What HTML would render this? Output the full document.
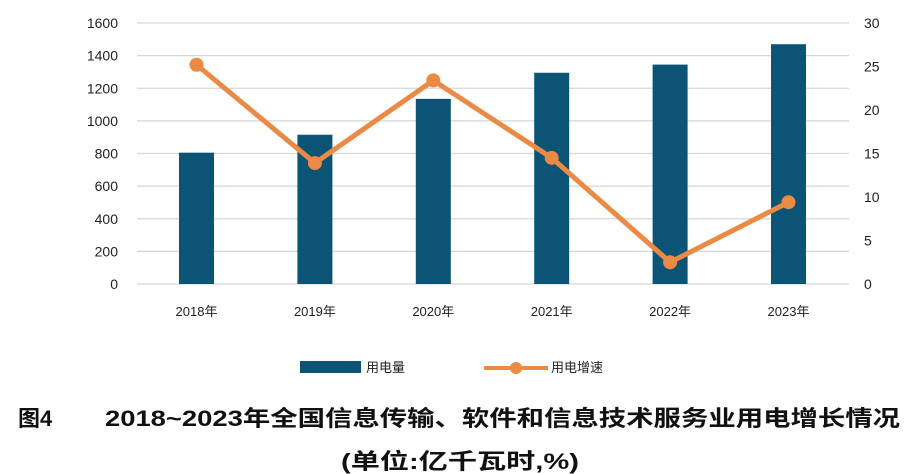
<!DOCTYPE html>
<html><head><meta charset="utf-8"><style>
body{margin:0;background:#fff;}
svg{display:block;font-family:"Liberation Sans","Noto Sans CJK SC",sans-serif;}
</style></head><body>
<svg id="chart" width="920" height="474" viewBox="0 0 920 474" xmlns="http://www.w3.org/2000/svg">
<g id="grid"></g>
<g id="bars"></g>
<g id="line"></g>
<g id="laxis" font-size="14" fill="#222" text-anchor="end"></g>
<g id="raxis" font-size="14" fill="#222"></g>
<g id="xaxis" font-size="13" fill="#222" text-anchor="middle"></g>
<g>
  <rect x="300" y="361" width="61" height="12" fill="#0b5475"/>
  <text x="366" y="372" font-size="13" fill="#222">用电量</text>
  <line x1="484" y1="368" x2="548" y2="368" stroke="#ea8a45" stroke-width="4"/>
  <circle cx="516" cy="368" r="6" fill="#ea8a45"/>
  <text x="551" y="372" font-size="13" fill="#222">用电增速</text>
</g>
<text x="18" y="426" font-size="22" font-weight="bold" fill="#111">图4</text>
<text x="105" y="426" font-size="22" font-weight="bold" fill="#111" textLength="795" lengthAdjust="spacingAndGlyphs">2018~2023年全国信息传输、软件和信息技术服务业用电增长情况</text>
<text x="341" y="469" font-size="22" font-weight="bold" fill="#111" textLength="238" lengthAdjust="spacingAndGlyphs">(单位:亿千瓦时,%)</text>
</svg>
<script>
const categories = ["2018年","2019年","2020年","2021年","2022年","2023年"];
const usage = [805, 915, 1135, 1295, 1345, 1470];
const growth = [25.2, 13.9, 23.4, 14.5, 2.5, 9.4];
const leftTicks = [0,200,400,600,800,1000,1200,1400,1600];
const rightTicks = [0,5,10,15,20,25,30];
const NS="http://www.w3.org/2000/svg";
const yTop=23,yBot=284,xLeft=137,xRight=849,c0=196.5,step=118.4,bw=35;
const yL=v=>yBot-(v/1600)*(yBot-yTop);
const yR=v=>yBot-(v/30)*(yBot-yTop);
const xC=i=>c0+i*step;
function mk(tag,attrs,parent){const e=document.createElementNS(NS,tag);for(const k in attrs)e.setAttribute(k,attrs[k]);parent.appendChild(e);return e;}
const grid=document.getElementById('grid'),bars=document.getElementById('bars'),line=document.getElementById('line');
const la=document.getElementById('laxis'),ra=document.getElementById('raxis'),xa=document.getElementById('xaxis');
leftTicks.forEach(t=>{
  const g=mk('line',{x1:xLeft,x2:xRight,y1:yL(t),y2:yL(t),stroke:'#d6d6d6','stroke-width':1.2},grid);
  
  
  const l=mk('text',{x:118,y:yL(t)+5},la);l.textContent=t;
  
  
});
rightTicks.forEach(t=>{
  const l=mk('text',{x:864,y:yR(t)+5},ra);l.textContent=t;
  
  
});
categories.forEach((c,i)=>{
  const r=mk('rect',{x:xC(i)-bw/2,y:yL(usage[i]),width:bw,height:yBot-yL(usage[i]),fill:'#0b5475'},bars);
  
  
  const l=mk('text',{x:xC(i),y:316},xa);l.textContent=c;
  
  
});
const pts=growth.map((v,i)=>xC(i)+','+yR(v)).join(' ');
const pl=mk('polyline',{points:pts,fill:'none',stroke:'#ea8a45','stroke-width':5,'stroke-linejoin':'round'},line);


growth.forEach((v,i)=>{
  const c=mk('circle',{cx:xC(i),cy:yR(v),r:7,fill:'#ea8a45'},line);
  
  
});
</script>
</body></html>
